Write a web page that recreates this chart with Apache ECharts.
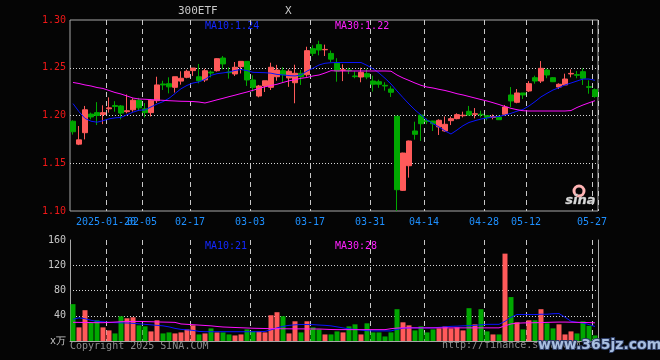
<!DOCTYPE html>
<html><head><meta charset="utf-8">
<script src="https://cdn.jsdelivr.net/npm/echarts@6/dist/echarts.min.js"></script>
<style>html,body{margin:0;padding:0;background:#050505}#c{width:660px;height:360px}</style>
</head><body><div id="c"></div>
<script>
const dates = [
'2025-01-10','2025-01-13','2025-01-14','2025-01-15','2025-01-16','2025-01-17','2025-01-20','2025-01-21','2025-01-22','2025-01-23','2025-01-24','2025-01-27',
'2025-02-05','2025-02-06','2025-02-07','2025-02-10','2025-02-11','2025-02-12','2025-02-13','2025-02-14','2025-02-17','2025-02-18','2025-02-19','2025-02-20','2025-02-21','2025-02-24','2025-02-25','2025-02-26','2025-02-27','2025-02-28',
'2025-03-03','2025-03-04','2025-03-05','2025-03-06','2025-03-07','2025-03-10','2025-03-11','2025-03-12','2025-03-13','2025-03-14','2025-03-17','2025-03-18','2025-03-19','2025-03-20','2025-03-21','2025-03-24','2025-03-25','2025-03-26','2025-03-27','2025-03-28','2025-03-31',
'2025-04-01','2025-04-02','2025-04-03','2025-04-07','2025-04-08','2025-04-09','2025-04-10','2025-04-11','2025-04-14','2025-04-15','2025-04-16','2025-04-17','2025-04-18','2025-04-21','2025-04-22','2025-04-23','2025-04-24','2025-04-25','2025-04-28','2025-04-29','2025-04-30',
'2025-05-06','2025-05-07','2025-05-08','2025-05-09','2025-05-12','2025-05-13','2025-05-14','2025-05-15','2025-05-16','2025-05-19','2025-05-20','2025-05-21','2025-05-22','2025-05-23','2025-05-26','2025-05-27'];

const opens = [1.194,1.170,1.182,1.2015,1.203,1.201,1.207,1.2105,1.210,1.204,
1.206,1.216,1.207,1.203,1.2155,1.233,1.2333,1.2295,1.236,1.240,
1.247,1.2406,1.2372,1.2455,1.2469,1.2602,1.2455,1.2435,1.2511,1.2567,
1.2372,1.2204,1.2309,1.2295,1.2406,1.2469,1.2393,1.2343,1.2442,1.2427,
1.270,1.2742,1.2688,1.265,1.2547,1.2473,1.2476,1.2414,1.2403,1.2438,
1.2361,1.2354,1.2316,1.2277,1.1992,1.1216,1.1474,1.1838,1.2005,1.1945,
1.1942,1.188,1.1838,1.1946,1.1967,1.1998,1.2044,1.2013,1.2013,1.1998,
1.198,1.1984,1.2013,1.2215,1.2138,1.2236,1.2257,1.2396,1.2361,1.2476,
1.2396,1.2298,1.232,1.2435,1.2428,1.2459,1.2302,1.227];
const closes = [1.183,1.1745,1.206,1.1985,1.200,1.203,1.208,1.2095,1.2025,1.205,
1.216,1.208,1.203,1.216,1.232,1.232,1.230,1.2406,1.239,1.2463,
1.2497,1.2364,1.2469,1.2445,1.2595,1.254,1.2448,1.2505,1.2567,1.2372,
1.2295,1.2309,1.2364,1.2505,1.2476,1.2427,1.2463,1.2442,1.2406,1.2679,
1.2651,1.2686,1.2692,1.259,1.2466,1.2478,1.2470,1.2407,1.2452,1.2403,
1.2327,1.2327,1.2309,1.2243,1.1223,1.1607,1.1733,1.1803,1.1914,1.1938,
1.1914,1.195,1.1908,1.1967,1.2009,1.2003,1.2005,1.2018,1.2006,1.1977,
1.1987,1.1956,1.2089,1.2152,1.2236,1.2215,1.2333,1.2361,1.2494,1.2424,
1.2354,1.2327,1.2382,1.2441,1.2421,1.239,1.2295,1.220];
const lows = [1.180,1.169,1.175,1.196,1.190,1.191,1.203,1.204,1.196,1.2023,
1.204,1.205,1.198,1.199,1.213,1.2267,1.2232,1.224,1.2323,1.239,
1.2414,1.2337,1.235,1.240,1.246,1.2484,1.2386,1.2414,1.244,1.231,
1.225,1.219,1.2246,1.2267,1.2364,1.2343,1.230,1.2128,1.232,1.2406,
1.2623,1.263,1.2623,1.256,1.2354,1.236,1.2434,1.239,1.2348,1.238,
1.225,1.229,1.226,1.2194,1.100,1.121,1.1349,1.1747,1.1733,1.191,
1.1838,1.1796,1.183,1.190,1.196,1.198,1.2,1.197,1.198,1.195,
1.196,1.1953,1.200,1.2089,1.2128,1.2173,1.2246,1.2333,1.234,1.239,
1.235,1.2277,1.232,1.240,1.239,1.232,1.2228,1.2186];
const highs = [1.195,1.189,1.210,1.203,1.214,1.2107,1.219,1.215,1.211,1.222,
1.218,1.2185,1.213,1.217,1.2406,1.2364,1.240,1.2406,1.2463,1.248,
1.2497,1.254,1.249,1.247,1.260,1.2623,1.2505,1.256,1.2567,1.2567,
1.2421,1.232,1.2364,1.2553,1.253,1.2505,1.2484,1.2532,1.2476,1.272,
1.2735,1.2783,1.2742,1.268,1.260,1.2536,1.250,1.2463,1.250,1.249,
1.2417,1.2375,1.2348,1.2306,1.1992,1.161,1.1737,1.1935,1.201,1.197,
1.1945,1.196,1.199,1.1988,1.2023,1.204,1.210,1.2078,1.205,1.2005,
1.201,1.2,1.211,1.2298,1.2277,1.2236,1.236,1.2417,1.257,1.249,
1.2403,1.2337,1.2438,1.2483,1.2466,1.2494,1.2368,1.2284];

const ma10 = [1.2125,1.204,1.197,1.194,1.193,1.1945,1.1965,1.1975,1.198,1.2008,1.2035,1.2055,1.2058,1.209,1.212,1.2145,1.218,1.223,1.228,1.2315,1.234,1.2352,
1.2378,1.242,1.2438,1.2446,1.2455,1.2472,1.2482,1.247,1.2452,1.245,1.2448,1.2443,1.243,1.2425,1.2418,1.2414,1.2425,1.2465,1.2495,1.2529,1.2547,1.2553,
1.2555,1.2555,1.2555,1.2555,1.2555,1.2525,1.249,1.2445,1.239,1.233,1.2257,1.2187,1.212,1.2058,1.2005,1.1953,1.1914,1.188,1.1838,1.1806,1.1848,1.1893,1.1927,1.1946,1.1963,1.1974,1.1984,1.199,1.2005,1.2023,1.2045,1.2063,1.21,1.2145,1.2195,1.2232,1.2267,1.2291,1.232,1.234,1.2361,1.2382,1.2382,1.2368];
const ma30 = [1.2346,1.2335,1.232,1.2309,1.2293,1.2283,1.2262,1.2241,1.2225,1.2204,1.2183,1.2173,1.217,1.2166,1.2162,1.2159,1.2155,1.2152,1.2149,1.2148,1.2146,1.2141,
1.2131,1.2147,1.2164,1.218,1.2197,1.2213,1.223,1.2246,1.2264,1.2283,1.2301,1.2314,1.2327,1.2346,1.2363,1.2375,1.239,1.2398,1.2414,1.2424,1.2445,1.2469,
1.2466,1.2466,1.2466,1.2466,1.2466,1.2466,1.2466,1.2466,1.2466,
1.2464,1.2424,1.2393,1.2367,1.234,1.2316,1.2298,1.2288,1.2274,1.2262,1.2246,1.2228,1.2215,1.2199,1.2183,1.2167,1.2152,1.2134,1.2115,1.2094,1.2075,1.2061,1.205,
1.2047,1.2047,1.2047,1.2047,1.2047,1.2047,1.2047,
1.2052,1.2084,1.211,1.2133,1.2155];

const volumes = [58.4,21.6,48.8,28.5,32.8,21.6,16.8,12,39.2,36,37.6,24.8,23.2,15.2,32.8,12,13.6,12,13.6,18.4,24.8,10.4,12,20,13.6,13.6,10.4,8.8,10.4,18.4,15.2,15.2,13.6,40.8,45.6,39.2,12,31.2,13.6,31.2,21.6,18.4,10.4,10.4,
15.2,13.6,23.2,26.4,10.4,28,13.6,13.6,7.2,13.6,50.4,29.6,24.8,16.8,23.2,13.6,18.4,20,23.2,20,21.6,16.8,52,26.4,50.4,15.2,10.4,10.4,138.4,69.6,29.6,18.4,32.8,32.8,50.4,28,20,26.4,10.4,15.2,12,31.2,24,8.8];
const volMa10 = [34.4,36.8,35.2,32.8,31.2,30.4,29.6,29.1,28.8,28.5,28,27.2,26.4,25.6,24.8,24,22.4,20,18.4,17.6,16.8,15.2,
14.7,14.7,14.7,14.7,14.7,14.7,14.7,14.7,14.7,14.7,15.2,17.6,20.8,23.2,24.8,25.6,26.1,26.1,25.9,25.3,24.8,24,
22.4,20.8,19.2,18.4,17.3,16.3,16,16,16,16,18.4,20.3,20.8,20.8,20.8,20.8,20.8,21.6,22.4,23.2,23.5,24,24.3,24.8,25.6,26.4,26.4,26.4,
31.2,37.6,41.9,41.9,41.9,41.9,42.4,42.4,43.2,43.5,37.6,31.2,29.6,28.5,26,23];
const volMa30 = [29.6,29.5,29.3,29.2,29,29,29.5,30,30.5,30.8,31,31,30.8,30.5,30.2,30,29.8,29.5,
27,26.4,25.8,25.2,24.6,24,23,22.2,21.8,21.4,21,20.6,20.2,20,19.8,19.5,19.5,19.4,19.3,19.2,19.2,19.1,19,19,18.6,18.2,
18,18,18,18,18,18,18,18,18,19.5,20.5,
20.8,20.8,20.8,20.8,20.8,20.8,20.8,20.8,20.8,20.8,20.8,20.8,20.8,20.8,20.8,20.8,20.8,
24,27,28.2,28.6,28.8,29,29.2,29.5,29.8,30,30,29.8,29.6,29.4,29.2,28.8];

const tickDates = ['2025-01-20','2025-02-05','2025-02-17','2025-03-03','2025-03-17','2025-03-31','2025-04-14','2025-04-28','2025-05-12','2025-05-27'];
const tickLabels = ['2025-01-20','02-05','02-17','03-03','03-17','03-31','04-14','04-28','05-12','05-27'];
const priceTicks = [1.10,1.15,1.20,1.25,1.30];
const volTicks = [0,40,80,120,160];

const FONT = 'DejaVu Sans Mono';
const RED = '#ff5a5a', GREEN = '#00a800';
const ohlc = dates.map((d,i)=>[opens[i],closes[i],lows[i],highs[i]]);
const tickIdx = tickDates.map(d=>dates.indexOf(d));
const labelOf = {}; tickDates.forEach((d,k)=>{labelOf[d]=tickLabels[k];});
const isTick = (i)=>tickIdx.indexOf(i)>=0;
// labels alternate between two axes so that the overlapping pair are both drawn
const isLabelA = (i)=>{const k=tickIdx.indexOf(i); return k>=0 && k!==1;};
const isLabelB = (i)=>tickIdx.indexOf(i)===1;
const labelStyle = {formatter:(v)=>labelOf[v]||'',hideOverlap:false,color:'#1e90ff',fontFamily:FONT,fontSize:10,margin:6,padding:[0,6,0,0]};

const chart = echarts.init(document.getElementById('c'));
chart.setOption({
  backgroundColor:'#050505',
  animation:false,
  grid:[
    {left:70,top:20,width:528,height:191,show:true,borderColor:'#a8a8a8',borderWidth:1,backgroundColor:'transparent'},
    {left:70,top:240,width:528,height:101}
  ],
  xAxis:[
    {type:'category',gridIndex:0,data:dates,boundaryGap:true,
     axisLine:{show:false},axisTick:{show:false},
     axisLabel:Object.assign({interval:isLabelA},labelStyle),
     splitLine:{show:true,interval:(i)=>isTick(i),lineStyle:{color:'#c8c8c8',type:[5,4],width:1}}},
    {type:'category',gridIndex:1,data:dates,boundaryGap:true,position:'top',
     axisLine:{show:true,lineStyle:{color:'#a8a8a8'}},axisTick:{show:false},axisLabel:{show:false},
     splitLine:{show:true,interval:(i)=>isTick(i),lineStyle:{color:'#c8c8c8',type:[5,4],width:1}}},
    {type:'category',gridIndex:0,data:dates,boundaryGap:true,position:'bottom',
     axisLine:{show:false},axisTick:{show:false},splitLine:{show:false},
     axisLabel:Object.assign({interval:isLabelB},labelStyle)}
  ],
  yAxis:[
    {type:'value',gridIndex:0,min:priceTicks[0],max:priceTicks[priceTicks.length-1],interval:0.05,
     axisLine:{show:false},axisTick:{show:false},
     axisLabel:{color:'#f01818',fontFamily:FONT,fontSize:10,margin:4,formatter:(v)=>v.toFixed(2)},
     splitLine:{show:true,showMinLine:false,showMaxLine:false,lineStyle:{color:'#d8d8d8',type:[1,2],width:1}}},
    {type:'value',gridIndex:1,min:volTicks[0],max:volTicks[volTicks.length-1],interval:40,
     axisLine:{show:true,lineStyle:{color:'#a8a8a8'}},axisTick:{show:false},
     axisLabel:{color:'#c8c8c8',fontFamily:FONT,fontSize:10,margin:4,formatter:(v)=>v===0?'x万':String(v)},
     splitLine:{show:true,showMinLine:false,showMaxLine:false,lineStyle:{color:'#d8d8d8',type:[1,2],width:1}}},
    {type:'value',gridIndex:1,position:'right',min:0,max:160,interval:40,
     axisLine:{show:true,lineStyle:{color:'#a8a8a8'}},axisTick:{show:false},axisLabel:{show:false},splitLine:{show:false}}
  ],
  series:[
    {type:'candlestick',name:'K',xAxisIndex:0,yAxisIndex:0,data:ohlc,barWidth:5,
     itemStyle:{color:RED,color0:GREEN,borderColor:RED,borderColor0:GREEN,borderWidth:1}},
    {type:'line',name:'MA10',xAxisIndex:0,yAxisIndex:0,data:ma10,showSymbol:false,symbol:'none',
     lineStyle:{color:'#0a14ff',width:1},z:3},
    {type:'line',name:'MA30',xAxisIndex:0,yAxisIndex:0,data:ma30,showSymbol:false,symbol:'none',
     lineStyle:{color:'#ff10ff',width:1},z:3},
    {type:'bar',name:'VOL',xAxisIndex:1,yAxisIndex:1,data:volumes,barWidth:5,
     itemStyle:{color:(p)=>closes[p.dataIndex]>=opens[p.dataIndex]?RED:GREEN}},
    {type:'line',name:'VMA10',xAxisIndex:1,yAxisIndex:1,data:volMa10,showSymbol:false,symbol:'none',
     lineStyle:{color:'#0a14ff',width:1},z:3},
    {type:'line',name:'VMA30',xAxisIndex:1,yAxisIndex:1,data:volMa30,showSymbol:false,symbol:'none',
     lineStyle:{color:'#ff10ff',width:1},z:3}
  ],
  graphic:[
    {type:'text',left:178,top:6,style:{text:'300ETF',fill:'#c8c8c8',font:'11px '+FONT}},
    {type:'text',left:285,top:6,style:{text:'X',fill:'#c8c8c8',font:'11px '+FONT}},
    {type:'text',left:205,top:21,style:{text:'MA10:1.24',fill:'#1428ff',font:'10px '+FONT}},
    {type:'text',left:335,top:21,style:{text:'MA30:1.22',fill:'#ff20ff',font:'10px '+FONT}},
    {type:'text',left:205,top:241,style:{text:'MA10:21',fill:'#1428ff',font:'10px '+FONT}},
    {type:'text',left:335,top:241,style:{text:'MA30:28',fill:'#ff20ff',font:'10px '+FONT}},
    {type:'circle',shape:{cx:579,cy:191,r:5},style:{fill:'none',stroke:'#ffb4b4',lineWidth:3}},
    {type:'text',left:565,top:194,style:{text:'sina',fill:'#d8d8d8',font:'italic bold 13px DejaVu Sans',stroke:'#888',lineWidth:0.5}},
    {type:'text',left:70,top:341,style:{text:'Copyright 2025 SINA.COM',fill:'#8c8c8c',font:'10px '+FONT}},
    {type:'text',left:442,top:340,style:{text:'http://finance.sina.com.cn',fill:'#8c8c8c',font:'10px '+FONT}},
    {type:'text',left:537,top:337,z:100,style:{text:'www.365jz.com',fill:'#a9bfe0',stroke:'#2d3d66',lineWidth:2,font:'bold 14px DejaVu Sans'}}
  ]
});
</script>
</body></html>
